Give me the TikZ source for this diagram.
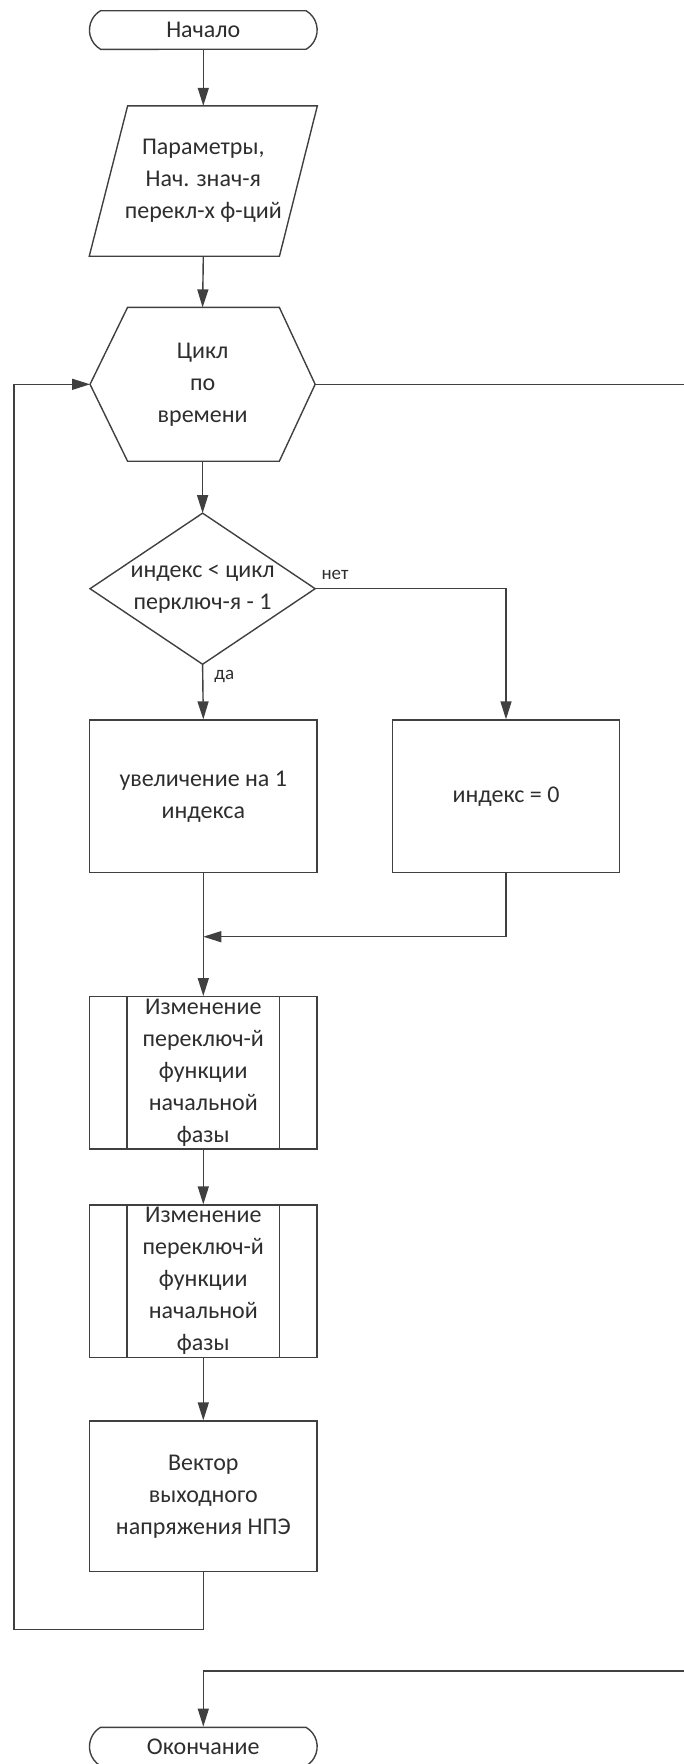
\documentclass[tikz,border=0pt]{standalone}
\usepackage{fontspec}
\setmainfont{Carlito}
\usetikzlibrary{arrows.meta,shapes.misc,calc}
\definecolor{lc}{HTML}{404040}
\definecolor{tc}{HTML}{2E2E2E}
\begin{document}
\begin{tikzpicture}[x=1pt,y=-1pt,
  ln/.style={draw=lc, line width=1.4pt},
  arr/.style={ln, -{Triangle[length=18pt,width=11pt]}},
  txt/.style={inner sep=0pt, align=center, text=tc, font=\fontsize{24}{32}\selectfont},
  box/.style={txt, draw=lc, line width=1.4pt, minimum width=227.7pt, minimum height=152.7pt},
  term/.style={txt, rounded rectangle, rounded rectangle arc length=120, draw=lc, line width=1.4pt, minimum width=227.7pt, minimum height=38.6pt},
  lbl/.style={inner sep=0pt, text=tc, font=\fontsize{19}{22}\selectfont}
]
\useasboundingbox (0,0) rectangle (684,1764);

% nodes
\node[term] (start) at (203.3,30) {Начало};

\node[txt, minimum width=227.7pt, minimum height=150pt] (par) at (203.3,181) {Параметры,\\Нач. знач-я\\перекл-х ф-ций};
\draw[ln] ([xshift=38.4pt]par.north west) -- (par.north east) -- ([xshift=-37.9pt]par.south east) -- (par.south west) -- cycle;

\node[txt, minimum width=224.7pt, minimum height=153.4pt] (hex) at (202.6,384.3) {Цикл\\по\\времени};
\draw[ln] (hex.west) -- ([xshift=37.5pt]hex.north west) -- ([xshift=-35.8pt]hex.north east) -- (hex.east) -- ([xshift=-35.8pt]hex.south east) -- ([xshift=37.5pt]hex.south west) -- cycle;

\node[txt, minimum width=224.7pt, minimum height=150.7pt] (dia) at (202.6,588.7) {индекс < цикл\\перключ-я - 1};
\draw[ln] (dia.north) -- (dia.east) -- (dia.south) -- (dia.west) -- cycle;

\node[box] (inc) at (203.3,796.4) {увеличение на 1\\индекса};
\node[box, minimum width=226.8pt] (zero) at (506,796.4) {индекс = 0};

\node[box, minimum height=152.3pt, inner ysep=-12pt] (pp1) at (203.3,1072.9) {Изменение\\переключ-й\\функции\\начальной\\фазы};
\draw[ln] ([xshift=38.4pt]pp1.north west) -- ([xshift=38.4pt]pp1.south west);
\draw[ln] ([xshift=-38.4pt]pp1.north east) -- ([xshift=-38.4pt]pp1.south east);

\node[box, minimum height=152.3pt, inner ysep=-12pt] (pp2) at (203.3,1281.2) {Изменение\\переключ-й\\функции\\начальной\\фазы};
\draw[ln] ([xshift=38.4pt]pp2.north west) -- ([xshift=38.4pt]pp2.south west);
\draw[ln] ([xshift=-38.4pt]pp2.north east) -- ([xshift=-38.4pt]pp2.south east);

\node[box, minimum height=150.7pt] (vec) at (203.3,1496.4) {Вектор\\выходного\\напряжения НПЭ};

\node[term] (fin) at (203.3,1746.6) {Окончание};

% coordinates
\coordinate (mrg) at (203.3,936.7);
\coordinate (lb) at (14,1629.3);
\coordinate (ex1) at (684,384.3);
\coordinate (ex2) at (684,1671);

% connectors
\draw[arr] (start.south) -- (par.north);
\draw[arr] (par.south) -- (hex.north);
\draw[arr] (hex.south) -- (dia.north);
\draw[arr] (dia.south) -- node[lbl, pos=0.23, anchor=west, xshift=11pt] {да} (inc.north);
\draw[arr] (dia.east) -| node[lbl, pos=0.015, anchor=base west, yshift=9pt] {нет} (zero.north);
\draw[arr] (inc.south) -- (pp1.north);
\draw[arr] (zero.south) |- (mrg);
\draw[arr] (pp1.south) -- (pp2.north);
\draw[arr] (pp2.south) -- (vec.north);
\draw[arr] (vec.south) |- (lb) |- (hex.west);
\draw[ln] (hex.east) -- (ex1);
\draw[arr] (ex2) -| (fin.north);
\end{tikzpicture}
\end{document}
